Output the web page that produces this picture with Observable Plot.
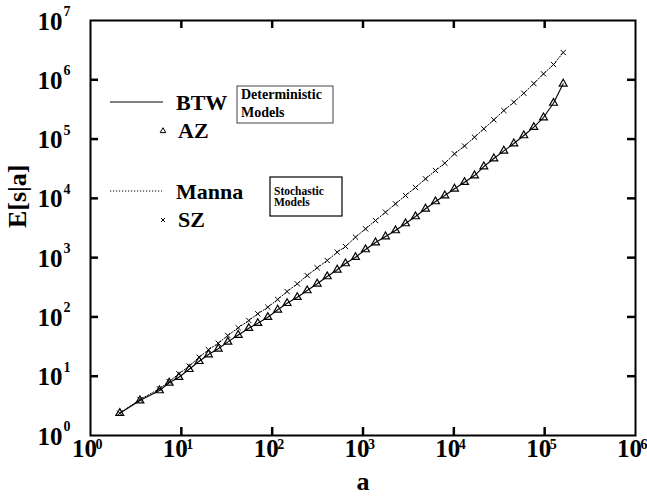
<!DOCTYPE html>
<html><head><meta charset="utf-8">
<script src="https://cdn.jsdelivr.net/npm/d3@7"></script>
<script src="https://cdn.jsdelivr.net/npm/@observablehq/plot@0.6"></script>
<style>
body{margin:0;background:#fff}
#chart{position:relative;width:647px;height:504px}
</style>
</head><body><div id="chart"></div>
<script>
// avalanche area a
const aVals = [2.1, 3.5, 5.75, 7.35, 9.4, 12.2, 15.7, 19.9, 25.5, 32.5, 42.3, 55.3, 69.5, 89.6, 115, 146, 189, 243, 313, 404, 520, 642, 827, 1066, 1373, 1770, 2280, 2938, 3786, 4877, 6285, 7957, 10170, 13110, 16890, 21390, 27560, 35510, 45760, 58960, 75970, 97120, 125200, 160000];
// E[s|a] for deterministic models (BTW line, AZ triangles)
const azVals = [2.38, 3.89, 5.74, 7.74, 9.62, 13.1, 17.9, 23.2, 29.0, 38.0, 49.5, 64.5, 78.4, 98.9, 132, 170, 215, 279, 362, 481, 624, 796, 1017, 1371, 1799, 2271, 2868, 3766, 4943, 6664, 8847, 11160, 14490, 18720, 24270, 34410, 46970, 63350, 84090, 114800, 158600, 230800, 405600, 855000];
// E[s|a] for stochastic models (Manna line, SZ crosses)
const szVals = [2.38, 4.05, 6.13, 8.14, 11.0, 14.8, 20.9, 27.9, 36.0, 48.6, 65.6, 87.1, 113, 146, 197, 268, 362, 500, 674, 895, 1236, 1541, 2213, 3065, 4228, 5835, 8085, 11160, 15240, 21360, 29480, 39170, 56400, 76370, 107400, 148900, 211300, 303200, 418500, 593000, 864800, 1262000, 1809000, 2883000];

const xTicks = [1, 10, 100, 1e3, 1e4, 1e5, 1e6];
const xExps = ["0", "1", "2", "3", "4", "5", "6"];
const yTicks = [1, 10, 100, 1e3, 1e4, 1e5, 1e6, 1e7];
const yExps = ["0", "1", "2", "3", "4", "5", "6", "7"];

const det = aVals.map((a, i) => ({a, e: azVals[i]}));
const sto = aVals.map((a, i) => ({a, e: szVals[i]}));

const FONT = "Liberation Serif, Times New Roman, serif";
const lbl = {fontFamily: FONT, fontWeight: "bold"};

// chart geometry
const W = 647, H = 504, ML = 90, MR = 12, MT = 20, MB = 69;
const TL = 8; // inward tick length in px
// tick length expressed as a factor on each log axis
const xDecPx = (W - ML - MR) / Math.log10(xTicks[xTicks.length - 1] / xTicks[0]);
const yDecPx = (H - MT - MB) / Math.log10(yTicks[yTicks.length - 1] / yTicks[0]);
const fx = Math.pow(10, TL / xDecPx), fy = Math.pow(10, TL / yDecPx);
const xIn = xTicks.slice(1, -1), yIn = yTicks.slice(1, -1);
const xLo = xTicks[0], xHi = xTicks[xTicks.length - 1];
const yLo = yTicks[0], yHi = yTicks[yTicks.length - 1];
const tk = {stroke: "#000", strokeWidth: 2.5};

const plot = Plot.plot({
  width: W, height: H,
  marginLeft: ML, marginRight: MR, marginTop: MT, marginBottom: MB,
  style: {background: "#fff", color: "#000", fontFamily: FONT},
  x: {type: "log", domain: [xLo, xHi], axis: null},
  y: {type: "log", domain: [yLo, yHi], axis: null},
  marks: [
    // inward ticks on four sides
    Plot.ruleX(xIn, {x: d => d, y1: yLo, y2: yLo * fy, ...tk}),
    Plot.ruleX(xIn, {x: d => d, y1: yHi / fy, y2: yHi, ...tk}),
    Plot.ruleY(yIn, {y: d => d, x1: xLo, x2: xLo * fx, ...tk}),
    Plot.ruleY(yIn, {y: d => d, x1: xHi / fx, x2: xHi, ...tk}),
    Plot.frame({stroke: "#000", strokeWidth: 2}),
    // x tick labels
    Plot.text(xTicks, {x: d => d, text: () => "10", frameAnchor: "bottom", dx: -6, dy: 21, fontSize: 25, ...lbl}),
    Plot.text(xTicks, {x: d => d, text: (d, i) => xExps[i], frameAnchor: "bottom", textAnchor: "start", dx: 5, dy: 13, fontSize: 14, ...lbl}),
    // y tick labels
    Plot.text(yTicks, {y: d => d, text: () => "10", frameAnchor: "left", textAnchor: "end", dx: -28, dy: 1, fontSize: 25, ...lbl}),
    Plot.text(yTicks, {y: d => d, text: (d, i) => yExps[i], frameAnchor: "left", textAnchor: "start", dx: -27, dy: -9, fontSize: 14, ...lbl}),
    // axis titles
    Plot.text(["E[s|a]"], {frameAnchor: "left", dx: -73, rotate: -90, fontSize: 26, ...lbl}),
    Plot.text(["a"], {frameAnchor: "bottom", dy: 54, fontSize: 26, ...lbl}),
    // series
    Plot.line(det, {x: "a", y: "e", stroke: "#000", strokeWidth: 1.1}),
    Plot.line(sto, {x: "a", y: "e", stroke: "#000", strokeWidth: 1, strokeDasharray: "1.2,1.8"}),
    Plot.dot(det, {x: "a", y: "e", symbol: "triangle", r: 2.9, stroke: "#000", strokeWidth: 1.2, fill: "none"}),
    Plot.dot(sto, {x: "a", y: "e", symbol: "times", r: 2.5, stroke: "#000", strokeWidth: 1})
  ]
});

document.getElementById("chart").appendChild(plot);

// legend (inside the frame, top-left)
const svg = d3.select(plot);
const g = svg.append("g")
  .attr("font-family", FONT).attr("font-weight", "bold")
  .attr("fill", "#000").attr("text-anchor", "start");
g.append("line").attr("x1", 110).attr("x2", 163).attr("y1", 102).attr("y2", 102).attr("stroke", "#000").attr("stroke-width", 1);
g.append("text").attr("x", 176).attr("y", 110).attr("font-size", 22).text("BTW");
g.append("path").attr("d", d3.symbol(d3.symbolTriangle, 14)()).attr("transform", "translate(163,131)").attr("fill", "none").attr("stroke", "#000");
g.append("text").attr("x", 178).attr("y", 138).attr("font-size", 22).text("AZ");
g.append("line").attr("x1", 110).attr("x2", 162).attr("y1", 191).attr("y2", 191).attr("stroke", "#000").attr("stroke-width", 1).attr("stroke-dasharray", "1.2,1.8");
g.append("text").attr("x", 176).attr("y", 199).attr("font-size", 22).text("Manna");
g.append("path").attr("d", d3.symbol(d3.symbolTimes, 12)()).attr("transform", "translate(163,220)").attr("fill", "none").attr("stroke", "#000");
g.append("text").attr("x", 178).attr("y", 227).attr("font-size", 22).text("SZ");
// boxes
g.append("rect").attr("x", 237).attr("y", 86).attr("width", 96).attr("height", 37).attr("fill", "none").attr("stroke", "#444").attr("stroke-width", 1);
g.append("text").attr("x", 241).attr("y", 99).attr("font-size", 14).text("Deterministic");
g.append("text").attr("x", 241).attr("y", 117).attr("font-size", 14).text("Models");
g.append("rect").attr("x", 270).attr("y", 177).attr("width", 72).attr("height", 39).attr("fill", "none").attr("stroke", "#000").attr("stroke-width", 1.2);
g.append("text").attr("x", 274).attr("y", 195).attr("font-size", 11.5).text("Stochastic");
g.append("text").attr("x", 274).attr("y", 205.5).attr("font-size", 11.5).text("Models");
</script>
</body></html>
